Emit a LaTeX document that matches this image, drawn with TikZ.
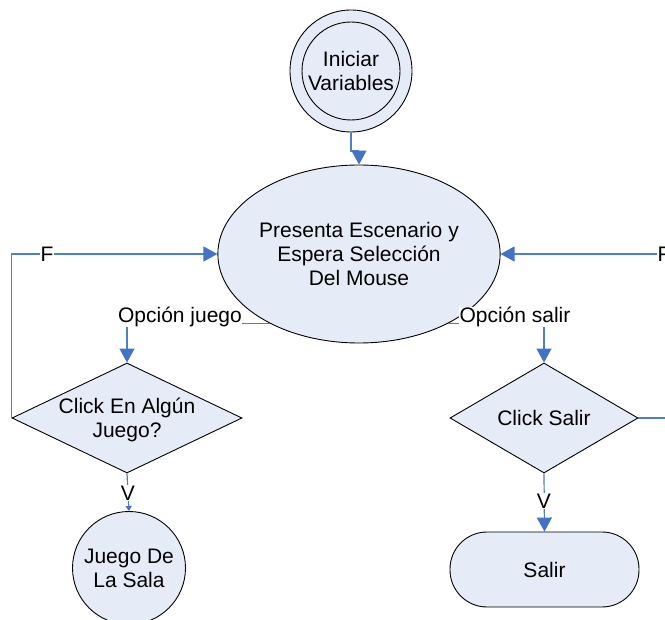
\documentclass[tikz,border=0pt]{standalone}
\usepackage{fontspec}
\setmainfont{Liberation Sans}
\usetikzlibrary{arrows.meta,shapes.geometric}
\definecolor{nodefill}{RGB}{230,236,247}
\definecolor{linkblue}{RGB}{79,129,189}
\definecolor{tipblue}{RGB}{68,114,196}
\begin{document}
\begin{tikzpicture}[x=1pt,y=-1pt,
  every node/.style={font=\fontsize{21}{24}\selectfont, inner sep=0pt, align=center},
  shapebox/.style={draw=black, line width=0.9pt, fill=nodefill},
  conn/.style={draw=linkblue, line width=1.2pt, -{Triangle[length=14pt,width=15pt,color=tipblue]}},
  plain/.style={draw=linkblue, line width=1.2pt},
  lbl/.style={fill=white, inner sep=0.5pt}]
\useasboundingbox (0,0) rectangle (665,620);
\clip (0,0) rectangle (665,620);
% nodes
\node[shapebox, circle, minimum size=122pt] (start) at (351,71) {};
\node[shapebox, circle, minimum size=98pt] (startin) at (351,71) {Iniciar\\Variables};
\node[shapebox, ellipse, minimum width=226pt, minimum height=178pt] (main) at (359,254) {Presenta Escenario y\\Espera Selección\\Del Mouse};
\node[shapebox, diamond, minimum width=230pt, minimum height=110pt, aspect=2.09] (ld) at (127,418) {};
\node at (127,420) {Click En Algún\\Juego?};
\node[shapebox, diamond, minimum width=188pt, minimum height=110pt, aspect=1.71] (rd) at (544,418) {};
\node at (544,418) {Click Salir};
\node[shapebox, circle, minimum size=113pt] (jc) at (129,568) {Juego De\\La Sala};
\node[shapebox, rectangle, rounded corners=37pt, minimum width=189pt, minimum height=75pt] (salir) at (544.5,569.5) {Salir};
% connectors
\coordinate (bend) at (351,151);
\draw[conn] (start.south) -- (bend) -| (main.north);
\draw[conn] (main.218) -| (ld.north);
\node[lbl] (oj) at (180,317) {Opción juego};
\draw[conn] (main.-38) -| (rd.north);
\node[lbl] (os) at (515,317) {Opción salir};
\draw[conn] (ld.west) |- (main.west);
\node[lbl] (fl) at (47,254) {F};
\coordinate (rc) at (690,418);
\draw[conn] (rd.east) -- (rc) |- (main.east);
\node[lbl] (fr) at (664,254) {F};
\draw[plain, -{Triangle[length=5pt,width=6pt,color=tipblue]}] (ld.south) -- (jc.north);
\node[lbl] (vl) at (128,493) {V};
\draw[conn] (rd.south) -- (salir.north);
\node[lbl] (vr) at (544,501) {V};
\end{tikzpicture}
\end{document}
